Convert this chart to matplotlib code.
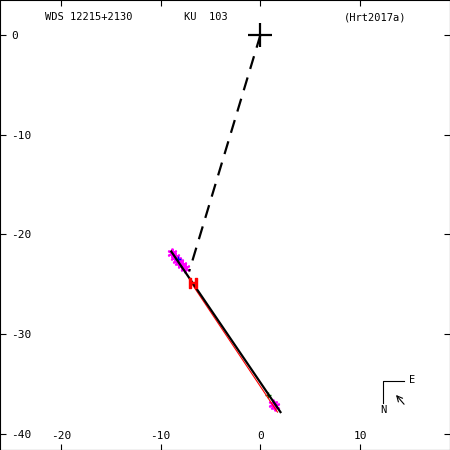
import matplotlib.pyplot as plt
import numpy as np

# relative positions in arcsec (x, y)
primary = (0.0, 0.0)
dash_end = (-7.14, -23.7)
fit_x = [-8.94, 2.01]
fit_y = [-21.7, -37.8]
red_x = [-7.04, 1.71]
red_y = [-24.7, -37.8]
h_x, h_y = -6.73, -24.9
obs_x = [-8.84, -8.54, -8.34, -8.14, -7.84, -7.54, 1.31, 1.51]
obs_y = [-21.9, -22.3, -22.6, -22.8, -23.1, -23.4, -37.0, -37.2]
blue_x, blue_y = [-8.24], [-22.5]
green_x, green_y = [0.80], [-36.1]

xticks = [-20, -10, 0, 10]
yticks = [0, -10, -20, -30, -40]

plt.rcParams['font.family'] = 'DejaVu Sans Mono'
plt.rcParams['axes.unicode_minus'] = False

fig = plt.figure(figsize=(4.5, 4.5), dpi=100)
ax = fig.add_axes([0, 0, 1, 1])
ax.set_xlim(-26.1, 19.0)
ax.set_ylim(-41.6, 3.5)

# observations under the lines
ax.plot(obs_x, obs_y, ls='none', marker=(6, 2, 0), color='magenta', ms=7, mew=1.4, zorder=1)
ax.plot(blue_x, blue_y, ls='none', marker='+', color='blue', ms=4, zorder=1)
ax.plot(green_x, green_y, ls='none', marker='+', color='green', ms=4, zorder=1)

# dashed line from primary
ax.plot([primary[0], dash_end[0]], [primary[1], dash_end[1]], 'k--', lw=1.6, dashes=(6, 4), zorder=2)
ax.plot(red_x, red_y, color='red', lw=0.8, zorder=2)
ax.plot(fit_x, fit_y, color='black', lw=1.6, zorder=3)
ax.plot([h_x], [h_y], ls='none', marker=r'$\mathrm{H}$', color='red', ms=7, zorder=4)
ax.plot([primary[0]], [primary[1]], ls='none', marker='+', color='black', ms=17, mew=1.6, zorder=4)

# ticks inside
ax.set_xticks(xticks)
ax.set_yticks(yticks)
ax.tick_params(axis='both', direction='in', length=4, labelsize=8,
               top=True, right=True)
ax.tick_params(axis='x', pad=-14)
ax.tick_params(axis='y', pad=-8)
for lab in ax.get_yticklabels():
    lab.set_horizontalalignment('left')

# header text
ax.text(0.1, 0.955, 'WDS 12215+2130', transform=ax.transAxes, fontsize=7.5)
ax.text(0.41, 0.955, 'KU  103', transform=ax.transAxes, fontsize=7.5)
ax.text(0.765, 0.955, '(Hrt2017a)', transform=ax.transAxes, fontsize=7.5)

# compass
ax.plot([0.851, 0.851, 0.898], [0.104, 0.153, 0.153], transform=ax.transAxes,
        color='black', lw=0.8)
ax.text(0.91, 0.155, 'E', transform=ax.transAxes, fontsize=7.5, va='center')
ax.text(0.851, 0.088, 'N', transform=ax.transAxes, fontsize=7.5, ha='center', va='center')
ax.annotate('', xy=(0.876, 0.127), xytext=(0.902, 0.097), xycoords='axes fraction',
            arrowprops=dict(arrowstyle='->', lw=0.8, color='black'))

fig.savefig('out.png', dpi=100)
